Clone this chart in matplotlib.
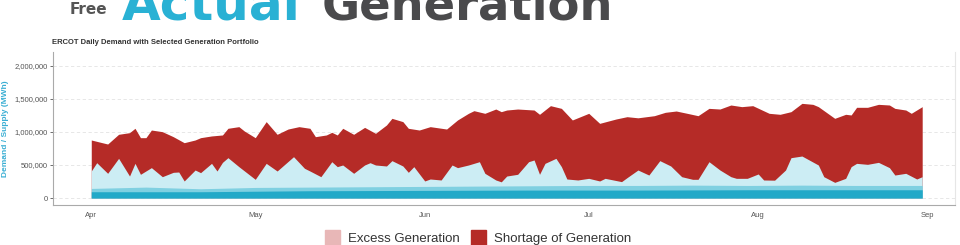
import datetime as dt
import matplotlib
matplotlib.use("Agg")
import matplotlib.pyplot as plt
from matplotlib.patches import Patch
from matplotlib.ticker import FuncFormatter

# Day offsets from Apr 1 and daily values (thousand MWh)
demand_days = [0, 2, 3, 5, 7, 8, 9, 10, 11, 13, 15, 17, 19, 20, 22, 24, 25, 27, 28, 30,
               32, 34, 36, 38, 40, 41, 43, 44, 45, 46, 48, 50, 52, 54, 55, 57, 58, 60, 62, 65,
               67, 69, 70, 72, 74, 75, 76, 78, 81, 82, 84, 86, 88, 91, 93, 96, 98, 100, 103, 105,
               107, 109, 111, 113, 115, 117, 119, 121, 124, 126, 128, 130, 132, 133, 136, 138, 139, 140, 142, 144,
               146, 147, 149, 150, 152]
demand = [879, 838, 818, 965, 990, 1056, 914, 914, 1030, 1005, 929, 838, 879, 914, 940, 955, 1056, 1081, 1015, 914,
          1157, 965, 1045, 1081, 1056, 929, 955, 995, 955, 1056, 965, 1070, 980, 1106, 1207, 1157, 1056, 1030, 1081, 1045,
          1182, 1283, 1323, 1283, 1348, 1308, 1333, 1348, 1333, 1268, 1399, 1358, 1182, 1283, 1131, 1197, 1232, 1215, 1247, 1298,
          1318, 1283, 1247, 1358, 1348, 1409, 1384, 1399, 1283, 1268, 1308, 1434, 1419, 1384, 1207, 1268, 1258, 1374, 1374, 1419,
          1409, 1358, 1333, 1283, 1384]

supply_days = [0, 1, 3, 5, 7, 8, 9, 11, 13, 15, 16, 17, 19, 20, 22, 23, 24, 25, 27, 30,
               32, 34, 37, 39, 40, 42, 44, 45, 46, 48, 50, 51, 52, 54, 55, 57, 58, 59, 61, 62,
               64, 66, 67, 69, 71, 72, 74, 75, 76, 78, 80, 81, 82, 83, 85, 86, 87, 89, 91, 93,
               94, 97, 98, 100, 102, 104, 106, 108, 110, 111, 113, 115, 117, 118, 120, 122, 123, 125, 127, 128,
               130, 133, 134, 136, 138, 139, 140, 142, 144, 146, 147, 149, 151, 152]
supply = [409, 535, 374, 601, 333, 525, 359, 460, 323, 389, 394, 258, 424, 384, 525, 409, 540, 611, 475, 283,
          525, 409, 626, 450, 409, 323, 550, 475, 500, 374, 500, 535, 500, 485, 566, 485, 389, 475, 258, 288,
          273, 500, 460, 500, 550, 374, 273, 245, 333, 359, 550, 576, 359, 525, 601, 475, 288, 273, 298, 258,
          298, 248, 308, 424, 348, 566, 485, 323, 283, 283, 550, 424, 323, 298, 298, 364, 273, 270, 424, 611,
          636, 500, 323, 237, 298, 475, 525, 510, 540, 460, 348, 374, 288, 323]

mid_days = [0, 10, 20, 30, 40, 50, 60, 70, 80, 90, 100, 110, 120, 130, 140, 152]
mid_supply = [145, 165, 140, 160, 165, 170, 175, 180, 185, 190, 190, 195, 190, 195, 190, 190]
base_days = [0, 20, 40, 60, 80, 100, 120, 152]
base_supply = [95, 95, 110, 115, 120, 120, 125, 125]

start = dt.date(2023, 4, 1)
month_labels = ["Apr", "May", "Jun", "Jul", "Aug", "Sep"]
month_ticks = [dt.date(2023, m, 1) for m in range(4, 10)]


def to_dates(days):
    return [start + dt.timedelta(days=d) for d in days]


RED = "#B52B27"
LIGHT = "#CCEDF4"
MID = "#7FD0E1"
TEAL = "#22A9C8"
PINK = "#E8B7B7"

plt.rcParams["font.family"] = ["Liberation Sans", "DejaVu Sans"]

fig = plt.figure(figsize=(9.6, 2.45), dpi=100)
ax = fig.add_axes([53 / 960, 1 - 205 / 245, 902 / 960, 153 / 245])

k = 1000
ax.fill_between(to_dates(demand_days), 0, [v * k for v in demand], color=RED, lw=0, zorder=2)
ax.fill_between(to_dates(supply_days), 0, [v * k for v in supply], color=LIGHT, lw=0, zorder=3)
ax.fill_between(to_dates(mid_days), 0, [v * k for v in mid_supply], color=MID, lw=0, zorder=4)
ax.fill_between(to_dates(base_days), 0, [v * k for v in base_supply], color=TEAL, lw=0, zorder=5)

ax.set_xlim(start - dt.timedelta(days=7.4), dt.date(2023, 9, 1) + dt.timedelta(days=5.7))
ax.set_ylim(-106000, 2212000)
ax.set_yticks([0, 500000, 1000000, 1500000, 2000000])
ax.yaxis.set_major_formatter(FuncFormatter(lambda v, p: f"{int(v):,}"))
ax.set_xticks(month_ticks)
ax.set_xticklabels(month_labels)
ax.tick_params(axis="both", labelsize=5.5, colors="#555555", length=2, width=0.6, pad=2)
ax.tick_params(axis="x", length=0, pad=5)
ax.grid(axis="y", color="#E3E3E3", lw=0.6, ls=(0, (4, 3)), zorder=0)
ax.spines["top"].set_visible(False)
ax.spines["right"].set_color("#E6E6E6")
for side in ["left", "bottom"]:
    ax.spines[side].set_color("#AAAAAA")
    ax.spines[side].set_linewidth(0.8)

ax.set_ylabel("Demand / Supply (MWh)", fontsize=6, color="#39AED3", fontweight="bold")
ax.yaxis.set_label_coords(-44 / 902, 0.5)

fig.text(52 / 960, 1 - 42 / 245, "ERCOT Daily Demand with Selected Generation Portfolio",
         fontsize=5.5, fontweight="bold", color="#333333", va="center", ha="left")

# header cut off at top
fig.text(70 / 960, 1 - 14 / 245, "Free", fontsize=11, fontweight="bold", color="#555555",
         family="DejaVu Sans", va="baseline")
fig.text(122 / 960, 1 - 20 / 245, "Actual", fontsize=36, fontweight="bold", color="#29B1D4",
         family="DejaVu Sans", va="baseline")
fig.text(322 / 960, 1 - 20 / 245, "Generation", fontsize=33.5, fontweight="bold", color="#4A4A4C",
         family="DejaVu Sans", va="baseline")

handles = [Patch(color=PINK, label="Excess Generation"), Patch(color=RED, label="Shortage of Generation")]
fig.legend(handles=handles, loc="center", bbox_to_anchor=(0.498, 0.03), ncol=2, frameon=False,
           fontsize=9.5, handlelength=1.2, handleheight=1.4, columnspacing=0.8, handletextpad=0.6,
           labelcolor="#333333")

fig.savefig("out.png", dpi=100, facecolor="white")
